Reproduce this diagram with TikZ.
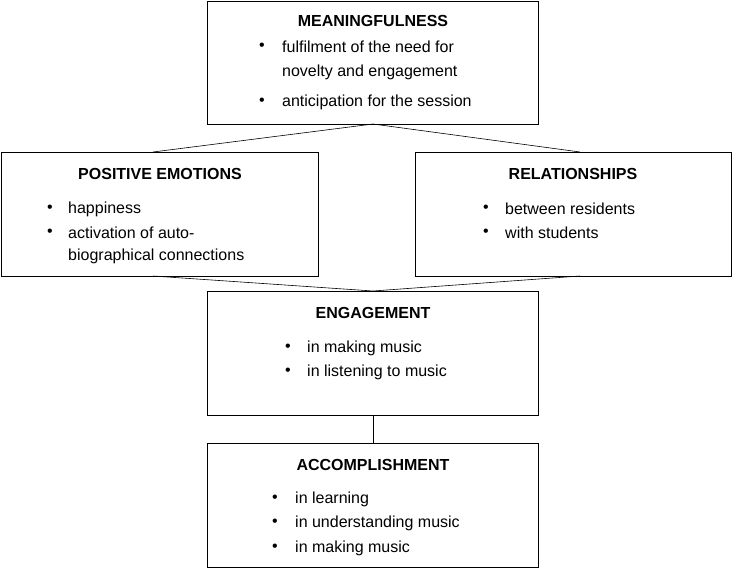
\documentclass[tikz,border=0pt]{standalone}
\usepackage{fontspec}
\setmainfont{Liberation Sans}
\begin{document}
\begin{tikzpicture}[x=1pt,y=-1pt,
  box/.style={draw,line width=0.8pt,inner sep=0},
  ttl/.style={font=\fontsize{16}{19}\selectfont\bfseries,inner sep=0},
  txt/.style={font=\fontsize{16}{19}\selectfont,anchor=west,inner sep=0},
  bul/.style={font=\fontsize{16}{19}\selectfont,inner sep=0},
  con/.style={line width=0.6pt}]
\useasboundingbox (0,0) rectangle (733,568);
% boxes
\draw[box] (207,1) rectangle (538,124); \coordinate (mB) at (373,124);
\draw[box] (1,152) rectangle (318,276); \coordinate (pT) at (153,152); \coordinate (pB) at (153,276);
\draw[box] (415,152) rectangle (731,276); \coordinate (rT) at (580,152); \coordinate (rB) at (580,276);
\draw[box] (207,291) rectangle (538,415); \coordinate (eT) at (373,291); \coordinate (eB) at (373,415);
\draw[box] (207,443) rectangle (538,567); \coordinate (aT) at (373,443);
% connectors
\draw[con] (mB) -- (pT);
\draw[con] (mB) -- (rT);
\draw[con] (pB) -- (eT);
\draw[con] (rB) -- (eT);
\draw[con] (eB) -- (aT);
% Meaningfulness
\node[ttl] (mt) at (373,21) {MEANINGFULNESS};
\node[bul] (mb1) at (262,47) {\textbullet}; \node[txt] (m1) at (282,47) {fulfilment of the need for};
\node[txt] (m1b) at (282,72) {novelty and engagement};
\node[bul] (mb2) at (262,102) {\textbullet}; \node[txt] (m2) at (282,102) {anticipation for the session};
% Positive emotions
\node[ttl] (pt) at (160,174) {POSITIVE EMOTIONS};
\node[bul] (pb1) at (50,209) {\textbullet}; \node[txt] (p1) at (68,209) {happiness};
\node[bul] (pb2) at (50,233) {\textbullet}; \node[txt] (p2) at (68,233) {activation of auto-};
\node[txt] (p2b) at (68,256) {biographical connections};
% Relationships
\node[ttl] (rt) at (573,174) {RELATIONSHIPS};
\node[bul] (rb1) at (486,209) {\textbullet}; \node[txt] (r1) at (505,209) {between residents};
\node[bul] (rb2) at (486,233) {\textbullet}; \node[txt] (r2) at (505,233) {with students};
% Engagement
\node[ttl] (et) at (373,313) {ENGAGEMENT};
\node[bul] (eb1) at (288,348) {\textbullet}; \node[txt] (e1) at (307,348) {in making music};
\node[bul] (eb2) at (288,372) {\textbullet}; \node[txt] (e2) at (307,372) {in listening to music};
% Accomplishment
\node[ttl] (at) at (373,465) {ACCOMPLISHMENT};
\node[bul] (ab1) at (275,499) {\textbullet}; \node[txt] (a1) at (295,499) {in learning};
\node[bul] (ab2) at (275,523) {\textbullet}; \node[txt] (a2) at (295,523) {in understanding music};
\node[bul] (ab3) at (275,548) {\textbullet}; \node[txt] (a3) at (295,548) {in making music};
\end{tikzpicture}
\end{document}
